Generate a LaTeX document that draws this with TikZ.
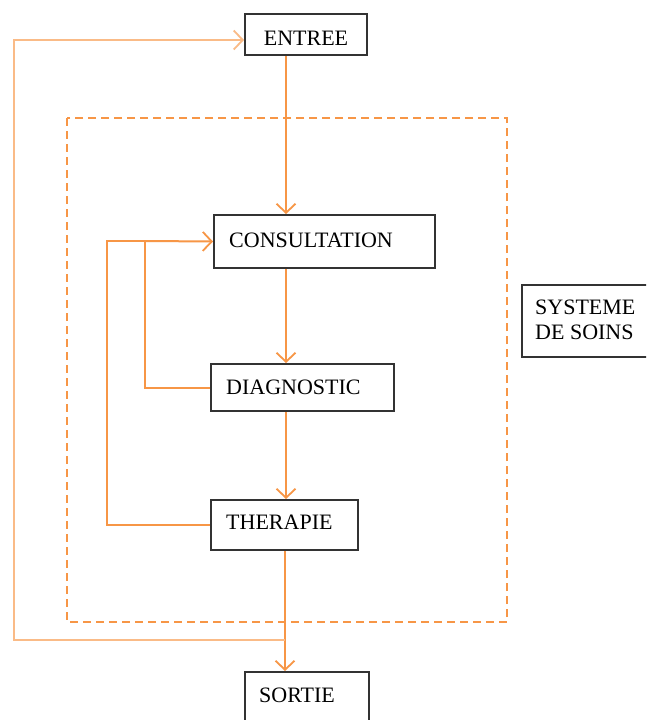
\documentclass[tikz,border=0pt]{standalone}
\usepackage{fontspec}
\setmainfont{Liberation Serif}
\usetikzlibrary{arrows.meta}
\definecolor{org}{RGB}{247,150,70}
\tikzset{
  box/.style={draw=black!80, line width=2pt, inner sep=0pt},
  tip/.style={-{Straight Barb[length=9pt,width=19pt,line width=1.8pt]}},
  flow/.style={draw=org, line width=2pt, tip},
  fb/.style={draw=org, line width=2pt},
  lbl/.style={font=\fontsize{22}{25}\selectfont, anchor=west, inner sep=0pt},
}
\begin{document}
\begin{tikzpicture}[x=1pt,y=-1pt]
\clip (0,0) rectangle (646,720);
\fill[white] (0,0) rectangle (646,720);
% boxes
\node[box, minimum width=122pt, minimum height=41pt] (entree) at (306,34.5) {};
\node[lbl, anchor=center] at (306,38) {ENTREE};
\node[box, minimum width=221pt, minimum height=53pt] (consult) at (324.5,241.5) {};
\node[lbl] at (229,240) {CONSULTATION};
\node[box, minimum width=183pt, minimum height=47pt] (diag) at (302.5,387.5) {};
\node[lbl] at (226,387) {DIAGNOSTIC};
\node[box, minimum width=147pt, minimum height=50pt] (ther) at (284.5,525) {};
\node[lbl] at (226,522) {THERAPIE};
\node[box, minimum width=124pt, minimum height=60pt, anchor=north] (sortie) at (307,671) {};
\node[lbl] at (259,695) {SORTIE};
\node[box, minimum width=140pt, minimum height=72pt, anchor=north west] (sys) at (521,284) {};
\node[lbl, align=left] at (535,320) {SYSTEME\\DE SOINS};
% dashed system boundary
\draw[org, line width=2pt, dash pattern=on 8pt off 5pt] (67,118) rectangle (507,622);
% main flow
\draw[flow] (entree.south -| 286,0) -- (consult.north -| 286,0);
\draw[flow] (consult.south -| 286,0) -- (diag.north -| 286,0);
\draw[flow] (diag.south -| 286,0) -- (ther.north -| 286,0);
\draw[flow] (ther.south -| 285,0) -- (sortie.north -| 285,0);
% feedback loops
\coordinate (j1) at (145,241);
\draw[fb] (diag.west) -| (j1);
\draw[fb] (ther.west) -| (107,241) -- (j1);
\draw[flow] (j1) -- (consult.west);
% outer loop
\coordinate (o1) at (285,640);
\draw[draw=org!65, line width=2pt, tip] (o1) -| (14,40) -- (entree.west |- 0,40);
\end{tikzpicture}
\end{document}
